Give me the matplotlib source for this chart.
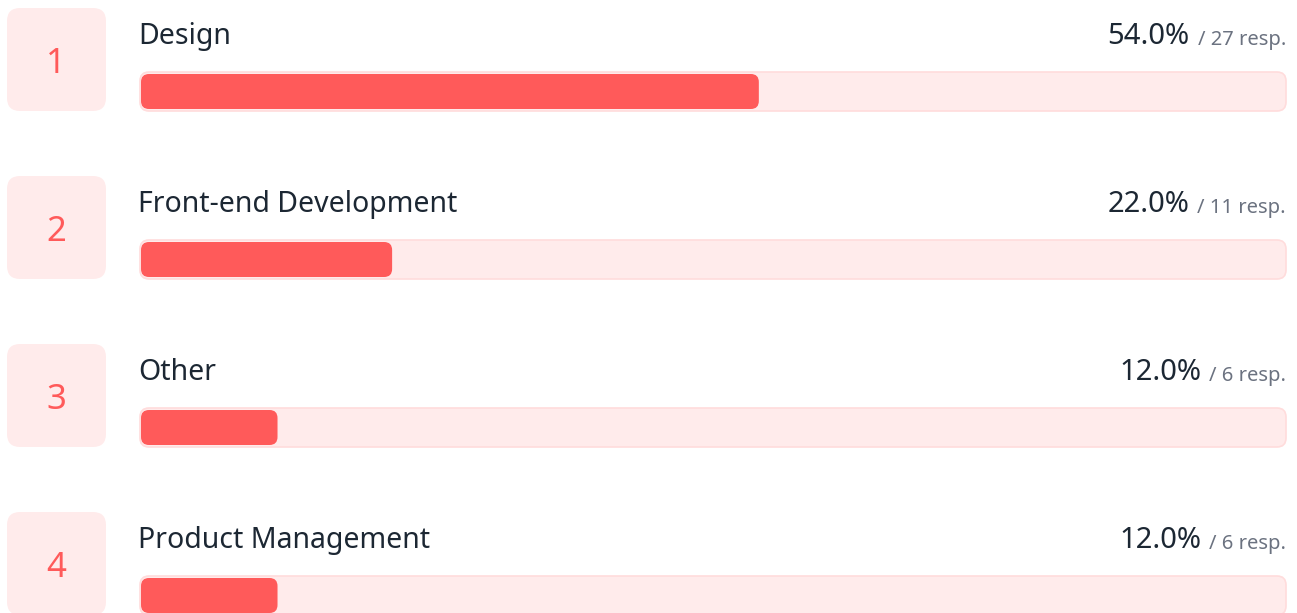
import matplotlib
matplotlib.use('Agg')
import matplotlib.pyplot as plt
from matplotlib.patches import FancyBboxPatch

plt.rcParams['font.family'] = ['Noto Sans', 'DejaVu Sans']

ranks = [1, 2, 3, 4]
labels = ['Design', 'Front-end Development', 'Other', 'Product Management']
percents = [54.0, 22.0, 12.0, 12.0]
responses = [27, 11, 6, 6]

RED = '#FF5A5A'
TRACK = '#FFEBEB'
TRACK_EDGE = '#FFDCDC'
BOX = '#FFEBEB'
DARK = '#1C2733'
GREY = '#6B7280'

W, H = 1297, 613
fig = plt.figure(figsize=(W / 100, H / 100), dpi=100)
ax = fig.add_axes([0, 0, 1, 1])
ax.set_xlim(0, W)
ax.set_ylim(H, 0)
ax.axis('off')

ROW = 168
TRACK_X0, TRACK_X1 = 140, 1286
track_w = TRACK_X1 - TRACK_X0

renderer = fig.canvas.get_renderer()
for i, (rank, label, pct, n) in enumerate(zip(ranks, labels, percents, responses)):
    y0 = i * ROW
    # rank badge
    ax.add_patch(FancyBboxPatch((7, y0 + 8), 99, 103,
                                boxstyle='round,pad=0,rounding_size=13',
                                facecolor=BOX, edgecolor='none'))
    ax.text(56, y0 + 73, str(rank), ha='center', va='baseline',
            fontsize=25, color=RED)

    # label and values
    ax.text(138, y0 + 44, label, ha='left', va='baseline',
            fontsize=20.5, color=DARK)
    resp = ax.text(1286, y0 + 45, f'/ {n} resp.', ha='right', va='baseline',
                   fontsize=14.5, color=GREY)
    bb = resp.get_window_extent(renderer)
    ax.text(bb.x0 - 8, y0 + 44, f'{pct:.1f}%', ha='right', va='baseline',
            fontsize=21, color=DARK)

    # track and bar
    ax.add_patch(FancyBboxPatch((TRACK_X0, y0 + 72), track_w, 39,
                                boxstyle='round,pad=0,rounding_size=9',
                                facecolor=TRACK, edgecolor=TRACK_EDGE, linewidth=1.2))
    bar_w = track_w * pct / 100
    ax.add_patch(FancyBboxPatch((TRACK_X0 + 1, y0 + 74), bar_w - 1, 35,
                                boxstyle='round,pad=0,rounding_size=8',
                                facecolor=RED, edgecolor='none'))

fig.savefig('out.png', dpi=100)
